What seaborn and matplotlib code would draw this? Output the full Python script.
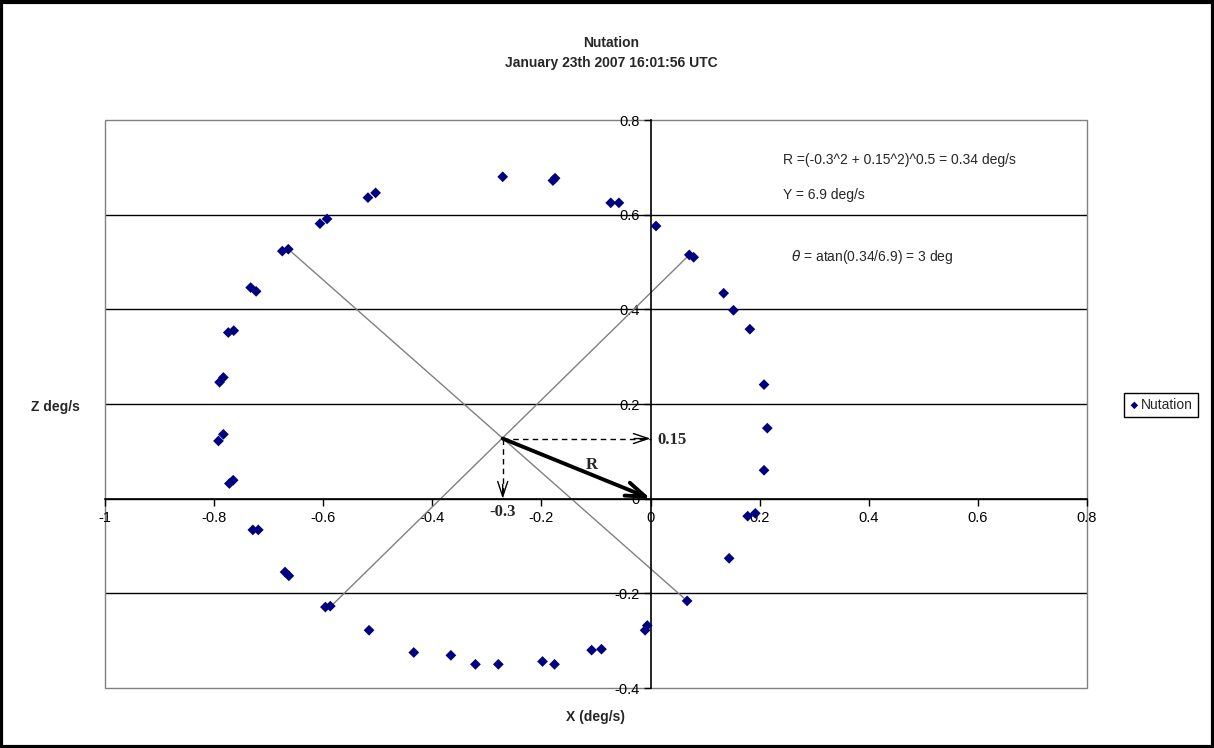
import matplotlib

matplotlib.use("Agg")
import matplotlib.pyplot as plt
import seaborn as sns
from matplotlib.patches import Rectangle

# Nutation samples (X, Z in deg/s)
x_vals = [
    -0.271, -0.179, -0.175, -0.073, -0.058, 0.010, 0.071, 0.079, 0.134, 0.152,
    0.182, 0.208, 0.214, 0.208, 0.178, 0.192, 0.144, 0.067, -0.006, -0.010,
    -0.090, -0.108, -0.176, -0.198, -0.279, -0.321, -0.366, -0.434, -0.516,
    -0.587, -0.596, -0.663, -0.670, -0.719, -0.729, -0.765, -0.772, -0.783,
    -0.792, -0.783, -0.790, -0.764, -0.774, -0.723, -0.733, -0.664, -0.675,
    -0.593, -0.606, -0.504, -0.518,
]
z_vals = [
    0.680, 0.672, 0.677, 0.625, 0.625, 0.576, 0.515, 0.510, 0.434, 0.398,
    0.358, 0.241, 0.149, 0.060, -0.037, -0.031, -0.126, -0.216, -0.268, -0.278,
    -0.318, -0.320, -0.350, -0.344, -0.350, -0.350, -0.331, -0.325, -0.278,
    -0.227, -0.229, -0.163, -0.155, -0.066, -0.066, 0.039, 0.032, 0.136,
    0.122, 0.256, 0.246, 0.355, 0.351, 0.438, 0.446, 0.527, 0.523,
    0.591, 0.581, 0.646, 0.636,
]

# diameters drawn across the circle
diag_a_x = [-0.658, 0.067]
diag_a_z = [0.521, -0.216]
diag_b_x = [-0.582, 0.071]
diag_b_z = [-0.223, 0.515]

# estimated centre of the circle and the origin
centre = (-0.271, 0.127)
origin = (0.0, 0.0)

x_ticks = [-1, -0.8, -0.6, -0.4, -0.2, 0, 0.2, 0.4, 0.6, 0.8]
z_ticks = [-0.4, -0.2, 0, 0.2, 0.4, 0.6, 0.8]

sns.set_theme(style="white")
plt.rcParams["font.family"] = ["Liberation Sans", "DejaVu Sans"]

fig = plt.figure(figsize=(12.14, 7.48), dpi=100)
ax = fig.add_axes([105 / 1214, 1 - 688 / 748, 982 / 1214, 568 / 748])

# horizontal gridlines
for z in z_ticks[1:-1]:
    ax.axhline(z, color="black", lw=1, zorder=0)

ax.plot(diag_a_x, diag_a_z, color="#808080", lw=1, zorder=1)
ax.plot(diag_b_x, diag_b_z, color="#808080", lw=1, zorder=1)

sns.scatterplot(
    x=x_vals, y=z_vals, marker="D", color="#000080", s=30,
    edgecolor="none", label="Nutation", legend=False, ax=ax, zorder=3,
)

# dashed component lines with solid open heads, then the resultant R
ax.plot([centre[0], origin[0]], [centre[1], centre[1]], color="black",
        lw=1, ls=(0, (4, 3)), zorder=4)
ax.plot([centre[0], centre[0]], [centre[1], origin[1]], color="black",
        lw=1, ls=(0, (4, 3)), zorder=4)
head = dict(arrowstyle="->,head_length=0.9,head_width=0.3", color="black",
            lw=1, shrinkA=0, shrinkB=0)
ax.annotate("", xy=(origin[0], centre[1]), xytext=(-0.03, centre[1]),
            arrowprops=head, zorder=4)
ax.annotate("", xy=(centre[0], origin[1]), xytext=(centre[0], 0.03),
            arrowprops=head, zorder=4)
ax.annotate("", xy=origin, xytext=centre,
            arrowprops=dict(arrowstyle="->,head_length=0.7,head_width=0.25",
                            color="black", lw=2.8, mutation_scale=20,
                            shrinkA=0, shrinkB=0), zorder=5)

ax.text(-0.108, 0.072, "R", family="Liberation Serif", fontsize=12,
        fontweight="bold", ha="center", va="center")
ax.text(0.012, 0.125, "0.15", family="Liberation Serif", fontsize=12,
        fontweight="bold", ha="left", va="center")
ax.text(-0.272, -0.028, "-0.3", family="Liberation Serif", fontsize=12,
        fontweight="bold", ha="center", va="center")

ax.text(0.243, 0.716, "R =(-0.3^2 + 0.15^2)^0.5 = 0.34 deg/s", fontsize=10,
        ha="left", va="center")
ax.text(0.243, 0.641, "Y = 6.9 deg/s", fontsize=10, ha="left", va="center")
ax.text(0.257, 0.511, r"$\theta$ = atan(0.34/6.9) = 3 deg", fontsize=10,
        ha="left", va="center")

ax.set_xlim(-1, 0.8)
ax.set_ylim(-0.4, 0.8)
ax.set_xticks(x_ticks)
ax.set_xticklabels([f"{v:g}" for v in x_ticks])
ax.set_yticks(z_ticks)
ax.set_yticklabels([f"{v:g}" for v in z_ticks])
ax.set_xlabel("")
ax.set_ylabel("")

ax.spines["left"].set_position(("data", 0))
ax.spines["bottom"].set_position(("data", 0))
for side in ["left", "bottom"]:
    ax.spines[side].set_color("black")
    ax.spines[side].set_linewidth(1.2)
for side in ["top", "right"]:
    ax.spines[side].set_visible(False)
ax.add_patch(Rectangle((0, 0), 1, 1, transform=ax.transAxes, fill=False,
                       edgecolor="#808080", lw=1, zorder=0, clip_on=False))
ax.tick_params(axis="both", direction="out", length=5, width=1, color="black",
               labelsize=10.5, labelcolor="black")
ax.tick_params(axis="x", pad=4, bottom=True)
ax.tick_params(axis="y", pad=3, left=True)

fig.text(611 / 1214, 1 - 43 / 748, "Nutation", fontsize=10, fontweight="bold",
         ha="center", va="center")
fig.text(611 / 1214, 1 - 63 / 748, "January 23th 2007 16:01:56 UTC",
         fontsize=10, fontweight="bold", ha="center", va="center")
fig.text(55 / 1214, 1 - 407 / 748, "Z deg/s", fontsize=10, fontweight="bold",
         ha="center", va="center")
fig.text(596 / 1214, 1 - 717 / 748, "X (deg/s)", fontsize=10,
         fontweight="bold", ha="center", va="center")

handles, labels = ax.get_legend_handles_labels()
fig.legend(handles, labels, loc="center", bbox_to_anchor=(1161 / 1214, 1 - 405 / 748),
           fancybox=False, frameon=True, edgecolor="black", fontsize=10,
           handletextpad=0.1, handlelength=0.8, borderpad=0.35,
           markerscale=0.7, framealpha=1)

fig.patches.append(Rectangle((0.001, 0.001), 0.998, 0.996, transform=fig.transFigure,
                             fill=False, edgecolor="black", lw=3))

fig.savefig("out.png", dpi=100)
